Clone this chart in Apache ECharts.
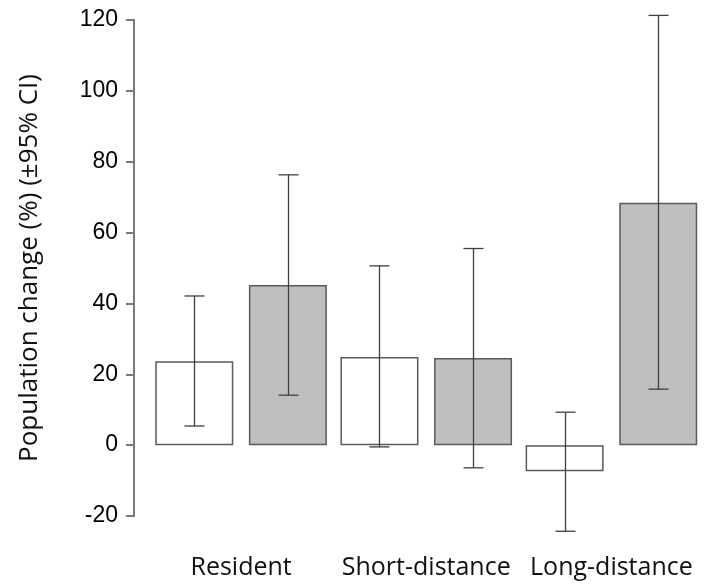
<!DOCTYPE html>
<html>
<head>
<meta charset="utf-8">
<script src="https://cdn.jsdelivr.net/npm/echarts@6/dist/echarts.min.js"></script>
<style>html,body{margin:0;padding:0;background:#fff}#c{width:704px;height:584px}</style>
</head>
<body>
<div id="c"></div>
<script>
const categories = ['Resident', 'Short-distance', 'Long-distance'];
const whiteValues = [23.7, 24.9, -7.4];
const whiteLow = [5.4, -0.5, -24.3];
const whiteHigh = [42.1, 50.6, 9.3];
const greyValues = [45.2, 24.6, 68.4];
const greyLow = [14.1, -6.4, 15.8];
const greyHigh = [76.3, 55.5, 121.3];
const yTicks = [-20, 0, 20, 40, 60, 80, 100, 120];

const BAR_W = 78;
const GAP_FRAC = 0.2;
const halfStep = BAR_W * (1 + GAP_FRAC) / 2;
const CAP = 10;

function errSeries(low, high, sign) {
  return {
    type: 'custom',
    z: 5,
    clip: false,
    silent: true,
    data: categories.map((c, i) => [i, low[i], high[i]]),
    renderItem: function (params, api) {
      const lo = api.coord([api.value(0), api.value(1)]);
      const hi = api.coord([api.value(0), api.value(2)]);
      const x = Math.round(lo[0] + sign * halfStep) + 0.5;
      const st = { stroke: '#3f3f3f', lineWidth: 1.3 };
      return {
        type: 'group',
        children: [
          { type: 'line', shape: { x1: x, y1: hi[1], x2: x, y2: lo[1] }, style: st },
          { type: 'line', shape: { x1: x - CAP, y1: hi[1], x2: x + CAP, y2: hi[1] }, style: st },
          { type: 'line', shape: { x1: x - CAP, y1: lo[1], x2: x + CAP, y2: lo[1] }, style: st }
        ]
      };
    }
  };
}

const chart = echarts.init(document.getElementById('c'), null, { renderer: 'canvas' });
chart.setOption({
  backgroundColor: '#ffffff',
  animation: false,
  grid: { left: 148.5, top: 20, width: 562, bottom: 68, containLabel: false },
  xAxis: {
    type: 'category',
    data: categories,
    axisLine: { show: false },
    axisTick: { show: false },
    axisLabel: {
      interval: 0,
      margin: 39,
      fontFamily: 'Open Sans',
      fontSize: 25,
      color: '#111111'
    },
    splitLine: { show: false }
  },
  yAxis: {
    type: 'value',
    min: yTicks[0],
    max: yTicks[yTicks.length - 1],
    interval: 20,
    offset: 14.5,
    name: 'Population change (%) (±95% CI)',
    nameLocation: 'middle',
    nameGap: 91,
    nameTextStyle: { fontFamily: 'Open Sans', fontSize: 26, color: '#111111' },
    axisLine: { show: true, lineStyle: { color: '#7a7a7a', width: 2 } },
    axisTick: { show: true, inside: false, length: 8, lineStyle: { color: '#7a7a7a', width: 2 } },
    axisLabel: {
      margin: 16,
      fontFamily: 'Liberation Sans',
      fontSize: 23,
      color: '#000000'
    },
    splitLine: { show: false }
  },
  series: [
    {
      type: 'bar',
      data: whiteValues,
      barWidth: BAR_W,
      barGap: (GAP_FRAC * 100) + '%',
      itemStyle: { color: '#ffffff', borderColor: '#5a5a5a', borderWidth: 1.5 }
    },
    {
      type: 'bar',
      data: greyValues,
      barWidth: BAR_W,
      barGap: (GAP_FRAC * 100) + '%',
      itemStyle: { color: '#bfbfbf', borderColor: '#5a5a5a', borderWidth: 1.5 }
    },
    errSeries(whiteLow, whiteHigh, -1),
    errSeries(greyLow, greyHigh, 1)
  ]
});
</script>
</body>
</html>
